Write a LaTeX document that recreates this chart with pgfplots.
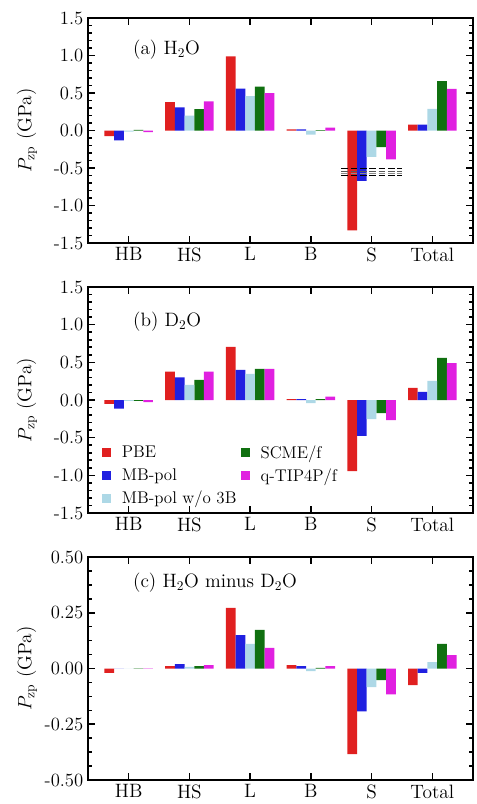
\documentclass[border=0pt]{standalone}
\usepackage{fontspec}
\usepackage{pgfplots}
\pgfplotsset{compat=1.18}
\definecolor{cred}{RGB}{224,32,32}
\definecolor{cblue}{RGB}{32,32,224}
\definecolor{clb}{RGB}{173,216,230}
\definecolor{cgreen}{RGB}{16,112,16}
\definecolor{cmag}{RGB}{224,32,224}
\pgfplotsset{
 panel/.style={
  scale only axis, width=288.75pt,
  anchor=north west,
  xmin=-0.67, xmax=5.67, xtick={0,1,2,3,4,5}, xticklabels={HB,HS,L,B,S,Total},
  ybar, bar width=0.16,
  tick align=inside, tick pos=both,
  axis line style={line width=2pt},
  major tick length=5.5pt, minor tick length=3pt,
  every tick/.style={black, line width=1.2pt},
  xticklabel style={font=\fontsize{14.5}{17}\selectfont},
  yticklabel style={font=\fontsize{14}{17}\selectfont},
  /pgf/number format/assume math mode=true,
  /pgf/number format/fixed, /pgf/number format/zerofill,
  ylabel={$P_{\mathrm{zp}}$ (GPa)},
  every axis y label/.style={at={(rel axis cs:0,0.5)}, xshift=-45.75pt, rotate=90, anchor=center, font=\fontsize{14.5}{17}\selectfont},
 },
 ref/.style={sharp plot, forget plot, line width=0.9pt, dash pattern=on 5pt off 2pt},
}
\begin{document}
\begin{tikzpicture}
\useasboundingbox (0,0) rectangle (357pt,-603pt);
% ---------------- panel (a)
\begin{axis}[panel, at={(66pt,-13.5pt)}, height=168.75pt,
  ymin=-1.5, ymax=1.5, ytick={-1.5,-1,-0.5,0,0.5,1,1.5}, minor y tick num=4,
  /pgf/number format/precision=1]
\addplot[fill=cred, draw=none, bar shift=-0.32] coordinates {(0,-0.075) (1,0.38) (2,0.99) (3,0.015) (4,-1.33) (5,0.08)};
\addplot[fill=cblue, draw=none, bar shift=-0.16] coordinates {(0,-0.13) (1,0.31) (2,0.56) (3,0.015) (4,-0.67) (5,0.08)};
\addplot[fill=clb, draw=none, bar shift=0] coordinates {(0,-0.015) (1,0.20) (2,0.46) (3,-0.055) (4,-0.35) (5,0.29)};
\addplot[fill=cgreen, draw=none, bar shift=0.16] coordinates {(0,0.008) (1,0.285) (2,0.585) (3,0.006) (4,-0.22) (5,0.66)};
\addplot[fill=cmag, draw=none, bar shift=0.32] coordinates {(0,-0.02) (1,0.39) (2,0.50) (3,0.04) (4,-0.385) (5,0.555)};
\addplot[ref, black] coordinates {(3.5,-0.51) (4.5,-0.51)};
\addplot[ref, black!65] coordinates {(3.5,-0.55) (4.5,-0.55)};
\addplot[ref, black!45] coordinates {(3.5,-0.575) (4.5,-0.575)};
\addplot[ref, black] coordinates {(3.5,-0.60) (4.5,-0.60)};
\node[anchor=west, font=\fontsize{14.5}{17}\selectfont] at (rel axis cs:0.105,0.858) {(a) H$_2$O};
\end{axis}
% ---------------- panel (b)
\begin{axis}[panel, at={(66pt,-215.25pt)}, height=169.5pt,
  ymin=-1.5, ymax=1.5, ytick={-1.5,-1,-0.5,0,0.5,1,1.5}, minor y tick num=4,
  /pgf/number format/precision=1,
  legend columns=2, legend cell align=left,
  legend image code/.code={\fill[#1] (0pt,-3.4pt) rectangle (6.75pt,3.4pt); \path (13pt,0pt);},
  legend style={at={(rel axis cs:0.025,0.323)}, anchor=north west, draw=none, fill=none,
    font=\fontsize{12.7}{14}\selectfont, row sep=2pt,
    /tikz/every even column/.append style={column sep=1pt}}]
\addplot[fill=cred, draw=none, bar shift=-0.32] coordinates {(0,-0.05) (1,0.377) (2,0.705) (3,0.013) (4,-0.945) (5,0.16)};
\addlegendentry{PBE}
\addplot[fill=cgreen, draw=none, bar shift=0.16] coordinates {(0,-0.01) (1,0.266) (2,0.413) (3,0.013) (4,-0.173) (5,0.56)};
\addlegendentry{SCME/f}
\addplot[fill=cblue, draw=none, bar shift=-0.16] coordinates {(0,-0.115) (1,0.30) (2,0.40) (3,0.013) (4,-0.475) (5,0.107)};
\addlegendentry{MB-pol}
\addplot[fill=cmag, draw=none, bar shift=0.32] coordinates {(0,-0.027) (1,0.377) (2,0.413) (3,0.044) (4,-0.266) (5,0.49)};
\addlegendentry{q-TIP4P/f}
\addplot[fill=clb, draw=none, bar shift=0] coordinates {(0,-0.01) (1,0.20) (2,0.346) (3,-0.04) (4,-0.253) (5,0.253)};
\addlegendentry{MB-pol w/o 3B}
\node[anchor=west, font=\fontsize{14.5}{17}\selectfont] at (rel axis cs:0.105,0.845) {(b) D$_2$O};
\end{axis}
% ---------------- panel (c)
\begin{axis}[panel, at={(66pt,-417.75pt)}, height=167.25pt,
  ymin=-0.5, ymax=0.5, ytick={-0.5,-0.25,0,0.25,0.5}, minor y tick num=3,
  /pgf/number format/precision=2]
\addplot[fill=cred, draw=none, bar shift=-0.32] coordinates {(0,-0.02) (1,0.0105) (2,0.272) (3,0.015) (4,-0.384) (5,-0.075)};
\addplot[fill=cblue, draw=none, bar shift=-0.16] coordinates {(0,-0.001) (1,0.0195) (2,0.150) (3,0.0105) (4,-0.192) (5,-0.0195)};
\addplot[fill=clb, draw=none, bar shift=0] coordinates {(0,-0.001) (1,0.0075) (2,0.11) (3,-0.012) (4,-0.084) (5,0.0285)};
\addplot[fill=cgreen, draw=none, bar shift=0.16] coordinates {(0,0.001) (1,0.0105) (2,0.173) (3,0.003) (4,-0.0525) (5,0.11)};
\addplot[fill=cmag, draw=none, bar shift=0.32] coordinates {(0,0.001) (1,0.015) (2,0.092) (3,0.0105) (4,-0.1156) (5,0.06)};
\node[anchor=west, font=\fontsize{14.5}{17}\selectfont] at (rel axis cs:0.105,0.883) {(c) H$_2$O minus D$_2$O};
\end{axis}
\end{tikzpicture}
\end{document}
